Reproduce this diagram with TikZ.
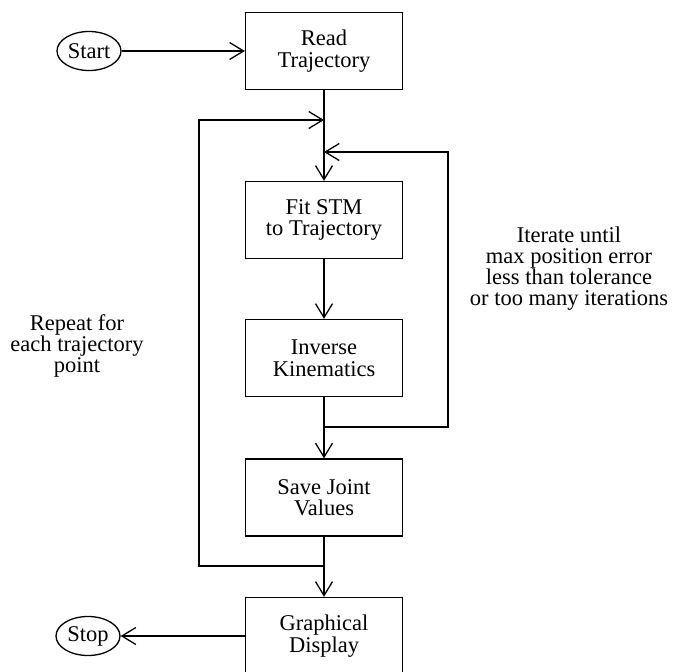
\documentclass[tikz,border=0pt]{standalone}
\usepackage{fontspec}
\setmainfont{Liberation Serif}
\usetikzlibrary{positioning,calc,arrows.meta,shapes.geometric}

\begin{document}
\begin{tikzpicture}[x=1pt, y=-1pt,
  stepbox/.style={draw, line width=1.3pt, minimum width=157pt, minimum height=77pt,
    inner sep=0pt, align=center, font=\fontsize{22.5}{21.5}\selectfont},
  term/.style={draw, ellipse, line width=1.3pt, minimum width=64pt, minimum height=39pt,
    inner sep=0pt, font=\fontsize{22.5}{21.5}\selectfont},
  note/.style={align=center, font=\fontsize{22.5}{21}\selectfont},
  flow/.style={line width=1.3pt, -{Straight Barb[length=14pt, width=17pt, line width=1.3pt]}},
]
\useasboundingbox (0,0) rectangle (678,672);

\node[stepbox] (read) at (324,51)    {Read\\Trajectory};
\node[stepbox] (fit)  at (324,220)   {Fit STM\\to Trajectory};
\node[stepbox] (ik)   at (324,358)   {Inverse\\Kinematics};
\node[stepbox] (save) at (324,497.5) {Save Joint\\Values};
\node[stepbox] (disp) at (324,636)   {Graphical\\Display};
\node[term] (start) at (89,51)  {Start};
\node[term] (stop)  at (88,636) {Stop};

\coordinate (reptin)  at (324,120);
\coordinate (iterin)  at (324,152);
\coordinate (iterout) at (324,427);
\coordinate (reptout) at (324,566);

\draw[flow] (start) -- (read);
\draw[flow] (read) -- (fit);
\draw[flow] (fit) -- (ik);
\draw[flow] (ik) -- (save);
\draw[flow] (save) -- (disp);
\draw[flow] (disp) -- (stop);
% loops
\draw[flow] (iterout) -- ++(124,0) |- (iterin);
\draw[flow] (reptout) -- ++(-125,0) |- (reptin);

\node[note] (iterlbl) at (569,269) {Iterate until\\max position error\\less than tolerance\\or too many iterations};
\node[note] (replbl)  at (77,346)  {Repeat for\\each trajectory\\point};
\end{tikzpicture}
\end{document}
